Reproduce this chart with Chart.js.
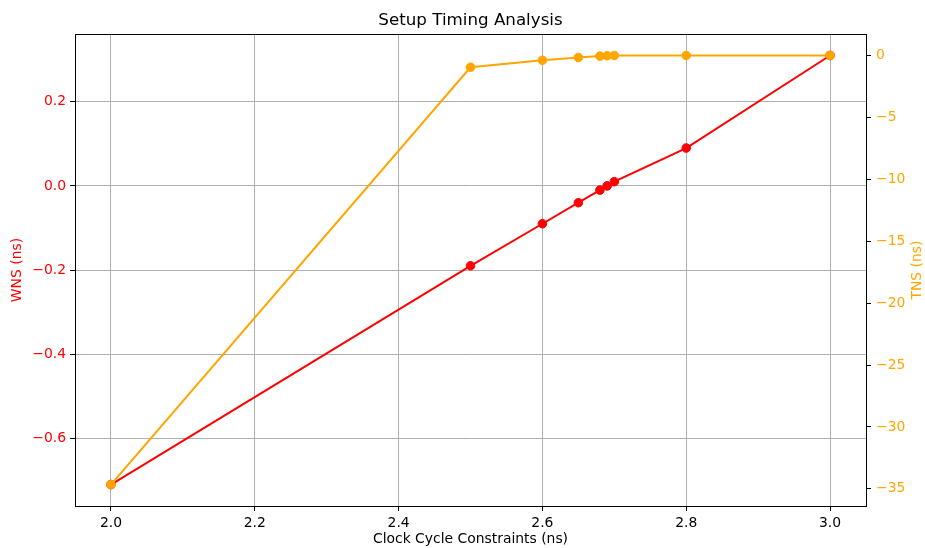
<!DOCTYPE html>
<html>
<head>
<meta charset="utf-8">
<script src="https://cdn.jsdelivr.net/npm/chart.js@4/dist/chart.umd.min.js"></script>
<style>
  html, body { margin: 0; padding: 0; background: #fff; }
  canvas { display: block; }
</style>
</head>
<body>
<canvas id="timingChart" width="925" height="548"></canvas>
<script>
// dados
const clockPeriods = [2.0, 2.5, 2.6, 2.65, 2.68, 2.69, 2.7, 2.8, 3.0];
const wnsValues = [-0.71, -0.19, -0.09, -0.04, -0.01, 0.0, 0.01, 0.09, 0.31];
const tnsValues = [-34.65, -0.95, -0.38, -0.16, -0.05, -0.02, 0.0, 0.0, 0.0];
const xTickValues = [2.0, 2.2, 2.4, 2.6, 2.8, 3.0];
const wnsTickValues = [-0.6, -0.4, -0.2, 0.0, 0.2];
const tnsTickValues = [-35, -30, -25, -20, -15, -10, -5, 0];

const FONT = "'DejaVu Sans', sans-serif";
const RED = '#ff0000';
const ORANGE = '#ffa500';

// margem de 5% como no matplotlib
function paddedRange(values) {
    const min = Math.min(...values);
    const max = Math.max(...values);
    const pad = (max - min) * 0.05;
    return { min: min - pad, max: max + pad };
}

function minusSign(text) {
    return text.replace('-', '\u2212');
}

const xRange = paddedRange(clockPeriods);
const wnsRange = paddedRange(wnsValues);
const tnsRange = paddedRange(tnsValues);

// moldura completa e título do eixo direito (lido de baixo para cima)
const framePlugin = {
    id: 'frame',
    afterDatasetsDraw(chart) {
        const a = chart.chartArea;
        const ctx = chart.ctx;
        ctx.save();
        ctx.strokeStyle = '#000';
        ctx.lineWidth = 1;
        ctx.strokeRect(Math.round(a.left) + 0.5, Math.round(a.top) + 0.5,
            Math.round(a.right - a.left), Math.round(a.bottom - a.top));
        ctx.restore();
    },
    afterDraw(chart) {
        const a = chart.chartArea;
        const ctx = chart.ctx;
        ctx.save();
        ctx.translate(917.5, (a.top + a.bottom) / 2);
        ctx.rotate(-Math.PI / 2);
        ctx.fillStyle = ORANGE;
        ctx.font = '13.9px ' + FONT;
        ctx.textAlign = 'center';
        ctx.textBaseline = 'middle';
        ctx.fillText('TNS (ns)', 0, 0);
        ctx.restore();
    }
};

new Chart(document.getElementById('timingChart').getContext('2d'), {
    type: 'line',
    data: {
        datasets: [
            {
                label: 'TNS',
                data: clockPeriods.map((x, i) => ({ x: x, y: tnsValues[i] })),
                yAxisID: 'yTns',
                borderColor: ORANGE,
                backgroundColor: ORANGE,
                pointBackgroundColor: ORANGE,
                pointBorderColor: ORANGE,
                borderWidth: 2,
                pointRadius: 4.3,
                pointBorderWidth: 1,
                tension: 0,
                order: 0
            },
            {
                label: 'WNS',
                data: clockPeriods.map((x, i) => ({ x: x, y: wnsValues[i] })),
                yAxisID: 'yWns',
                borderColor: RED,
                backgroundColor: RED,
                pointBackgroundColor: RED,
                pointBorderColor: RED,
                borderWidth: 2,
                pointRadius: 4.3,
                pointBorderWidth: 1,
                tension: 0,
                order: 1
            }
        ]
    },
    options: {
        responsive: false,
        animation: false,
        devicePixelRatio: 1,
        layout: { padding: 0 },
        plugins: {
            legend: { display: false },
            tooltip: { enabled: false },
            title: {
                display: true,
                fullSize: false,
                text: 'Setup Timing Analysis',
                color: '#000',
                font: { family: FONT, size: 16.7, weight: 'normal', lineHeight: 1.2 },
                padding: { top: 11, bottom: 3 }
            }
        },
        scales: {
            x: {
                type: 'linear',
                position: 'bottom',
                min: xRange.min,
                max: xRange.max,
                afterBuildTicks: scale => { scale.ticks = xTickValues.map(v => ({ value: v })); },
                afterFit: scale => { scale.height = 42; },
                border: { display: false },
                grid: { color: '#b0b0b0', lineWidth: 1, tickColor: '#000', tickLength: 5 },
                ticks: {
                    color: '#000',
                    font: { family: FONT, size: 13.9 },
                    padding: 4,
                    maxRotation: 0,
                    callback: v => v.toFixed(1)
                },
                title: {
                    display: true,
                    text: 'Clock Cycle Constraints (ns)',
                    color: '#000',
                    font: { family: FONT, size: 13.9, lineHeight: 1.2 },
                    padding: { top: 0, bottom: 0 }
                }
            },
            yWns: {
                type: 'linear',
                position: 'left',
                min: wnsRange.min,
                max: wnsRange.max,
                afterBuildTicks: scale => { scale.ticks = wnsTickValues.map(v => ({ value: v })); },
                afterFit: scale => { scale.width = 75; },
                border: { display: false },
                grid: { color: '#b0b0b0', lineWidth: 1, tickColor: '#000', tickLength: 5 },
                ticks: {
                    color: RED,
                    font: { family: FONT, size: 13.9 },
                    padding: 4,
                    callback: v => minusSign(v.toFixed(1))
                },
                title: {
                    display: true,
                    text: 'WNS (ns)',
                    color: RED,
                    font: { family: FONT, size: 13.9, lineHeight: 1.2 },
                    padding: { top: 9, bottom: 0 }
                }
            },
            yTns: {
                type: 'linear',
                position: 'right',
                min: tnsRange.min,
                max: tnsRange.max,
                afterBuildTicks: scale => { scale.ticks = tnsTickValues.map(v => ({ value: v })); },
                afterFit: scale => { scale.width = 59; },
                border: { display: false },
                grid: { drawOnChartArea: false, tickColor: '#000', tickLength: 5 },
                ticks: {
                    color: ORANGE,
                    font: { family: FONT, size: 13.9 },
                    padding: 5,
                    callback: v => minusSign(String(Math.round(v)))
                },
                title: { display: false }
            }
        }
    },
    plugins: [framePlugin]
});
</script>
</body>
</html>
